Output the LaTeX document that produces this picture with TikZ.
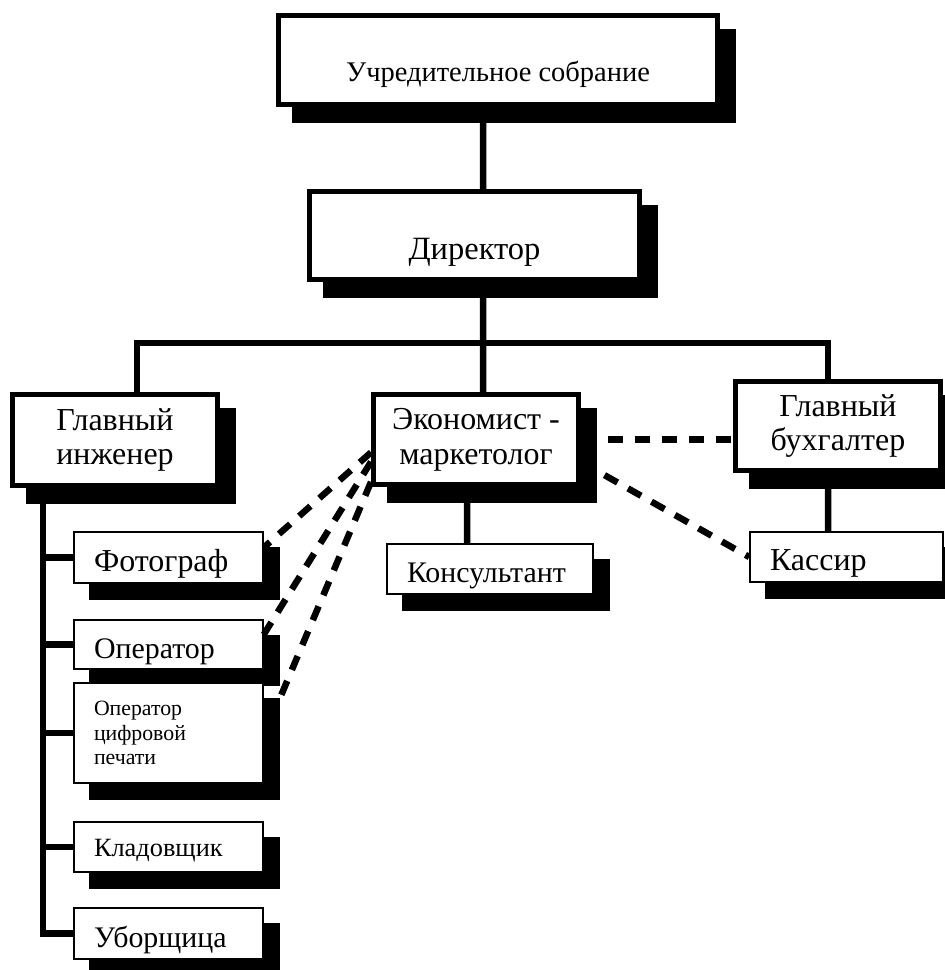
\documentclass[tikz,border=0pt]{standalone}
\usepackage{fontspec}
\setmainfont{Liberation Serif}
\usetikzlibrary{shadows}

\tikzset{
    boxshadow/.style={drop shadow={shadow xshift=0.32cm, shadow yshift=-0.32cm,
        opacity=1, fill=black, draw=black}},
    bigbox/.style={draw, fill=white, line width=0.1cm, boxshadow,
        align=center, font=\fontsize{18.2}{19.8}\selectfont},
    smallbox/.style={draw, fill=white, line width=0.9pt, boxshadow,
        align=left, inner xsep=0.4cm, inner ysep=0pt, text width=2.98cm,
        font=\fontsize{17}{20}\selectfont},
    oneline/.style={text height=0.64cm, text depth=0.1cm},
    link/.style={line width=0.13cm},
    dashlink/.style={line width=0.13cm, dash pattern=on 0.3cm off 0.24cm}
}

\begin{document}
\begin{tikzpicture}[x=0.02cm, y=-0.02cm]
    \useasboundingbox (0,0) rectangle (945,970);

    \node [bigbox,
        minimum width=8.78cm,
        minimum height=1.78cm,
        text height=0.98cm, text depth=0.1cm,
        font=\fontsize{16.2}{19}\selectfont
    ] (uchred) at (498,60) {Учредительное собрание};

    \node [bigbox,
        minimum width=6.6cm,
        minimum height=1.76cm,
        text height=1.08cm, text depth=0.1cm,
        font=\fontsize{18.5}{21}\selectfont
    ] (direktor) at (474.5,235.5) {Директор};

    \node [bigbox,
        minimum width=4.1cm,
        minimum height=1.82cm
    ] (glinzh) at (115,440) {Главный\\инженер};

    \node [bigbox,
        minimum width=4.1cm,
        minimum height=1.8cm
    ] (ekon) at (476,439.5) {Экономист -\\маркетолог};

    \node [bigbox,
        minimum width=4.1cm,
        minimum height=1.78cm
    ] (glbuh) at (838,426) {Главный\\бухгалтер};

    \node [smallbox, oneline,
        minimum height=1.02cm,
        font=\fontsize{18.2}{20}\selectfont
    ] (foto) at (168.5,557.5) {Фотограф};

    \node [smallbox, oneline,
        minimum height=0.98cm,
        font=\fontsize{17}{20}\selectfont
    ] (oper) at (168.5,644.5) {Оператор};

    \node [smallbox,
        minimum height=2cm,
        font=\fontsize{12.4}{13.9}\selectfont
    ] (opcif) at (168.5,733) {Оператор\\цифровой\\печати};

    \node [smallbox,
        minimum height=1cm,
        text height=0.46cm, text depth=0.1cm,
        font=\fontsize{15}{18}\selectfont
    ] (klad) at (168.5,847) {Кладовщик};

    \node [smallbox, oneline,
        minimum height=1.02cm,
        font=\fontsize{17}{20}\selectfont
    ] (uborsh) at (168.5,933.5) {Уборщица};

    \node [smallbox, oneline,
        minimum height=1cm,
        text width=3.32cm,
        font=\fontsize{17}{20}\selectfont
    ] (konsul) at (490,569) {Консультант};

    \node [smallbox, oneline,
        minimum height=1cm,
        text width=3.06cm,
        font=\fontsize{18.2}{20}\selectfont
    ] (kassir) at (846.5,557) {Кассир};

    \coordinate (bus) at (483,343);
    \coordinate (trunk) at ([xshift=-1.44cm]glinzh.south);

    % solid lines
    \draw[link] ([xshift=-0.3cm]uchred.south) -- ([xshift=0.17cm]direktor.north);
    \draw[link] ([xshift=0.17cm]direktor.south) -- ([xshift=0.14cm]ekon.north);
    \draw[link] ([xshift=0.44cm]glinzh.north) |- (bus) -| ([xshift=-0.2cm]glbuh.north);
    \draw[link] ([xshift=-0.18cm]ekon.south) -- ([xshift=-0.46cm]konsul.north);
    \draw[link] ([xshift=-0.2cm]glbuh.south) -- ([xshift=-0.37cm]kassir.north);
    \draw[link] (trunk) |- (foto.west);
    \draw[link] (trunk) |- (oper.west);
    \draw[link] (trunk) |- (opcif.west);
    \draw[link] (trunk) |- (klad.west);
    \draw[link] (trunk) |- (uborsh.west);

    % dashed lines
    \draw[dashlink] (ekon.east) -- (ekon.east -| glbuh.west);
    \draw[dashlink] (ekon.-12) -- (kassir.west);
    \draw[dashlink] (ekon.187) -- (foto.6);
    \draw[dashlink] (ekon.192) -- (oper.6);
    \draw[dashlink] (ekon.202) -- ([shift={(0.34cm,-0.28cm)}]opcif.north east);
\end{tikzpicture}
\end{document}
